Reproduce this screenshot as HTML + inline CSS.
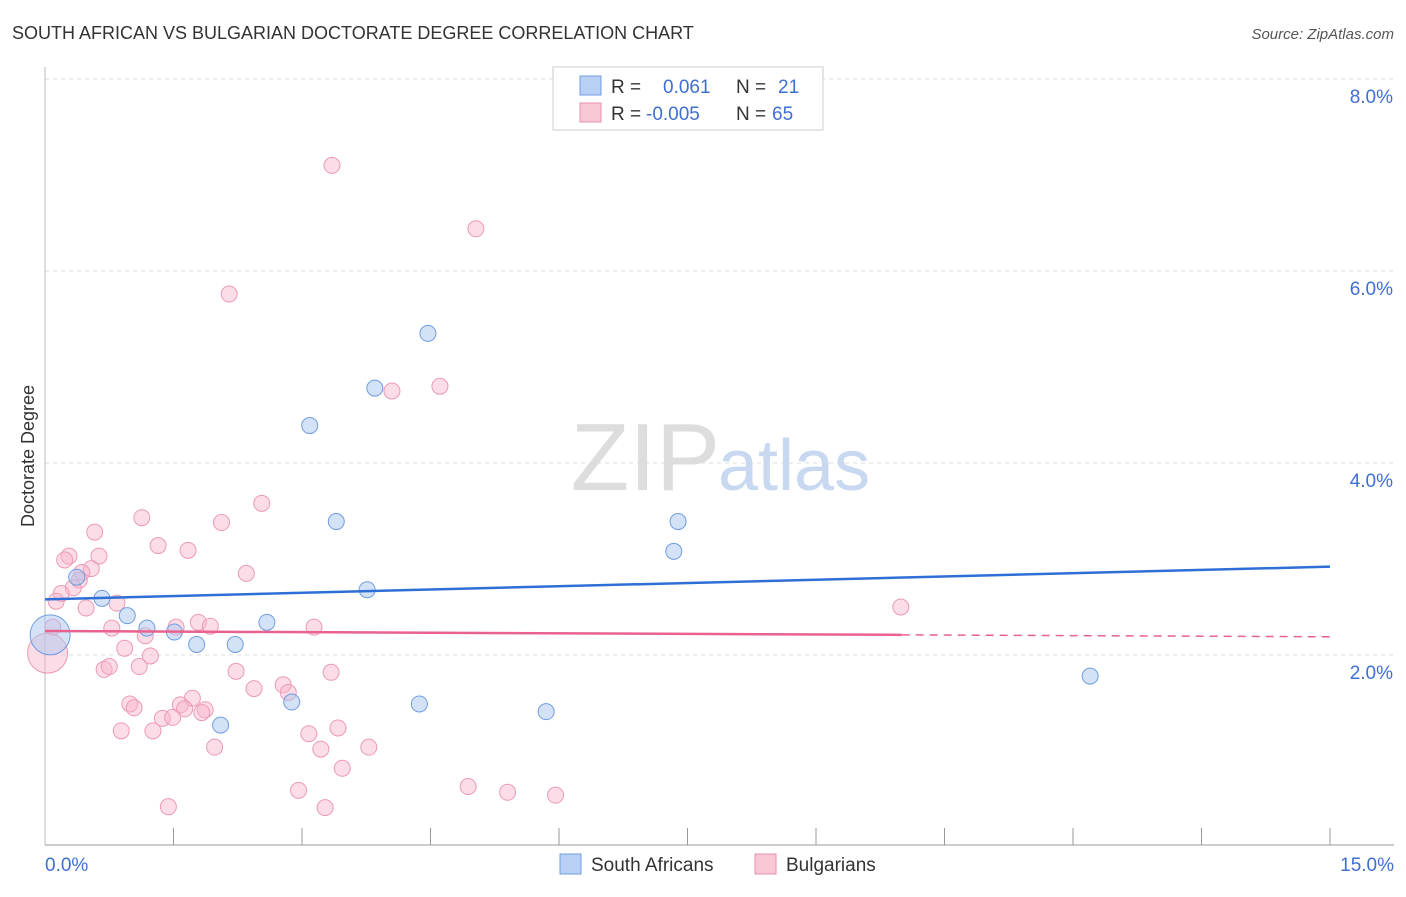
<!DOCTYPE html>
<html><head><meta charset="utf-8"><style>
body{margin:0;background:#fff;font-family:"Liberation Sans",sans-serif;}
svg text{font-family:"Liberation Sans",sans-serif;}
</style></head><body>
<svg id="chart" width="1406" height="892">
<text x="12" y="39" font-size="18" fill="#333">SOUTH AFRICAN VS BULGARIAN DOCTORATE DEGREE CORRELATION CHART</text>
<text x="1394" y="39" font-size="15" fill="#555" font-style="italic" text-anchor="end">Source: ZipAtlas.com</text>
<g id="grid"></g>
<g id="axes"></g>
<text x="720" y="490" font-size="96" fill="#ddd" text-anchor="end" font-family="Liberation Serif">ZIP</text>
<text x="718" y="490" font-size="72" fill="#c8d8f0">atlas</text>
<text transform="translate(34,456) rotate(-90)" font-size="18" fill="#333" text-anchor="middle">Doctorate Degree</text>
<g id="marks"></g>
<g id="lines"></g>
<g>
<rect x="553" y="67" width="270" height="63" fill="#fff" stroke="#ccc"/>
<rect x="580" y="76" width="21" height="19" fill="#b8d0f4" stroke="#6f9de0"/>
<rect x="580" y="103" width="21" height="19" fill="#f9c6d6" stroke="#e890ae"/>
<text x="611" y="93" font-size="19" fill="#333">R =</text>
<text x="663" y="93" font-size="19" fill="#3f6fd0">0.061</text>
<text x="736" y="93" font-size="19" fill="#333">N =</text>
<text x="778" y="93" font-size="19" fill="#3f6fd0">21</text>
<text x="611" y="120" font-size="19" fill="#333">R =</text>
<text x="646" y="120" font-size="19" fill="#3f6fd0">-0.005</text>
<text x="736" y="120" font-size="19" fill="#333">N =</text>
<text x="772" y="120" font-size="19" fill="#3f6fd0">65</text>
</g>
<g>
<rect x="560" y="854" width="21" height="20" fill="#b8d0f4" stroke="#6f9de0"/>
<text x="591" y="871" font-size="19" fill="#333">South Africans</text>
<rect x="755" y="854" width="21" height="20" fill="#f9c6d6" stroke="#e890ae"/>
<text x="786" y="871" font-size="19" fill="#333">Bulgarians</text>
</g>
</svg>
<script>
const yTicks=[2,4,6,8];
const xTickLabels=["0.0%","15.0%"];
const saX=[0.665,0.96,1.19,1.51,1.77,2.05,2.22,2.59,2.88,3.09,3.40,3.76,3.85,4.37,4.47,5.85,7.34,7.39,12.2,0.37,0.06];
const saY=[2.59,2.41,2.28,2.24,2.11,1.27,2.11,2.34,1.51,4.39,3.39,2.68,4.78,1.49,5.35,1.41,3.08,3.39,1.78,2.81,2.21];
const bgX=[3.35,5.03,2.15,4.61,4.05,2.53,1.13,2.06,0.58,1.32,1.67,0.28,0.63,0.23,0.54,0.43,2.35,0.40,0.33,0.19,0.13,0.84,0.48,9.99,0.78,1.79,1.93,1.53,3.14,0.09,1.17,0.93,1.23,2.23,3.34,0.69,0.75,1.10,2.78,2.44,2.84,1.72,0.99,1.04,1.58,1.63,1.87,1.83,1.37,1.49,0.89,1.26,3.08,3.42,1.98,3.22,3.78,3.47,4.94,5.40,5.96,2.96,1.44,3.27,0.03];
const bgY=[7.10,6.44,5.76,4.80,4.75,3.58,3.43,3.38,3.28,3.14,3.09,3.03,3.03,2.99,2.90,2.86,2.85,2.78,2.70,2.64,2.56,2.54,2.49,2.50,2.28,2.34,2.30,2.29,2.29,2.29,2.20,2.07,1.99,1.83,1.82,1.85,1.88,1.88,1.69,1.65,1.61,1.55,1.49,1.45,1.48,1.44,1.43,1.40,1.34,1.35,1.21,1.21,1.18,1.24,1.04,1.02,1.04,0.82,0.63,0.57,0.54,0.59,0.42,0.41,2.02];
const saTrend=[2.58,2.92];
const bgTrend=[2.25,2.21,2.19];
const bgSolidEnd=10.0;
const X=v=>45+v/15*1285, Y=v=>847-v*96;
const NS="http://www.w3.org/2000/svg";
function mk(t,a,p){const e=document.createElementNS(NS,t);for(const k in a)e.setAttribute(k,a[k]);document.getElementById(p).appendChild(e);return e;}
yTicks.forEach(t=>{
 const l=mk('line',{x1:45,x2:1394,y1:Y(t),y2:Y(t),stroke:'#ddd','stroke-dasharray':'4,4'},'grid');
 
 
 const tx=mk('text',{x:1393,y:Y(t)+24,'font-size':19,fill:'#3f6fd0','text-anchor':'end'},'grid');
 tx.textContent=t.toFixed(1)+'%';
 
 
});
let ax=mk('line',{x1:45,x2:1394,y1:845,y2:845,stroke:'#999'},'axes');


ax=mk('line',{x1:45,x2:45,y1:67,y2:845,stroke:'#bbb'},'axes');


for(let i=1;i<=10;i++){
 const t=mk('line',{x1:X(i*1.5),x2:X(i*1.5),y1:828,y2:845,stroke:'#999'},'axes');
 
 
}
[[0,'start',45],[15,'end',1394]].forEach((d,i)=>{
 const t=mk('text',{x:d[2],y:871,'font-size':19,fill:'#3f6fd0','text-anchor':d[1]},'axes');
 t.textContent=xTickLabels[i];
 
 
});
bgX.forEach((v,i)=>{
 const big=i===bgX.length-1;
 const c=mk('circle',{cx:X(v),cy:Y(bgY[i]),r:big?20:8,fill:'rgba(248,180,202,0.45)',stroke:'#eb9ab5','stroke-width':1},'marks');
 
 
});
saX.forEach((v,i)=>{
 const big=i===saX.length-1;
 const c=mk('circle',{cx:X(v),cy:Y(saY[i]),r:big?20:8,fill:'rgba(170,198,240,0.5)',stroke:'#6f9de0','stroke-width':1},'marks');
 
 
});
let l=mk('line',{x1:X(0),x2:X(15),y1:Y(saTrend[0]),y2:Y(saTrend[1]),stroke:'#2d6fd6','stroke-width':2.5},'lines');


l=mk('line',{x1:X(0),x2:X(bgSolidEnd),y1:Y(bgTrend[0]),y2:Y(bgTrend[1]),stroke:'#e8618f','stroke-width':2.5},'lines');


l=mk('line',{x1:X(bgSolidEnd),x2:X(15),y1:Y(bgTrend[1]),y2:Y(bgTrend[2]),stroke:'#e8618f','stroke-width':1.5,'stroke-dasharray':'8,6'},'lines');


</script>
</body></html>
